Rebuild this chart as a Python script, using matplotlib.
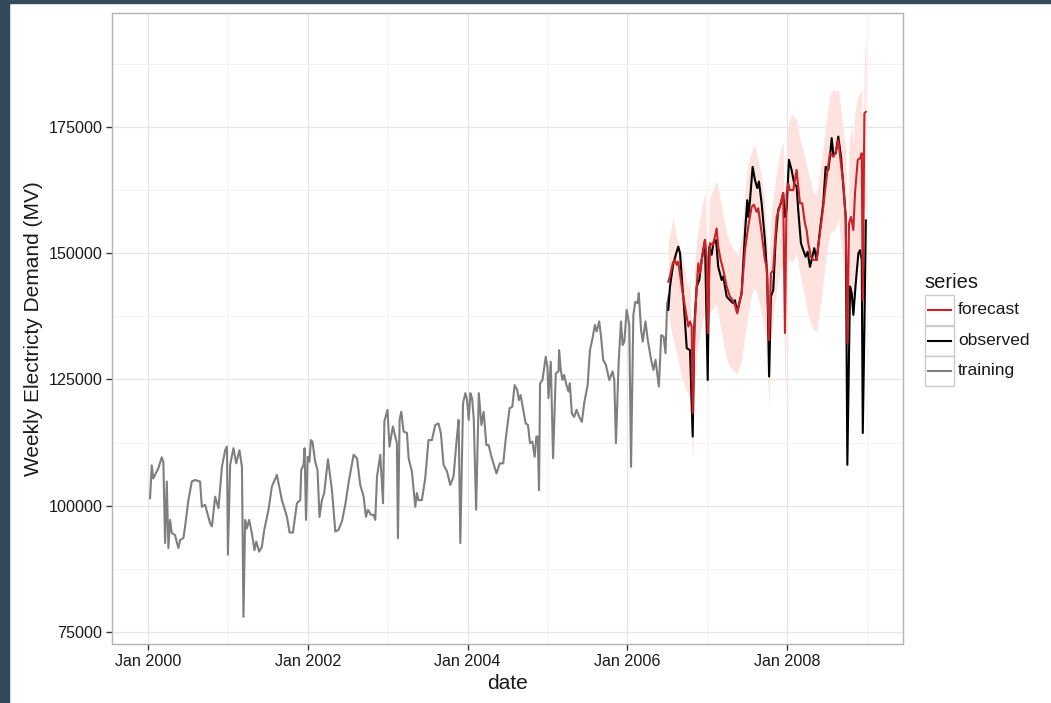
import matplotlib
matplotlib.use("Agg")
import matplotlib.pyplot as plt
from matplotlib.patches import Rectangle
from matplotlib.lines import Line2D
from datetime import datetime

plt.rcParams['font.family'] = ['Liberation Sans', 'DejaVu Sans']

# ---------------- data (decimal years, MW) ----------------
train_t = [2000.022, 2000.043, 2000.062, 2000.084, 2000.125, 2000.168, 2000.188, 2000.210, 2000.231, 2000.251,
           2000.272, 2000.293, 2000.334, 2000.376, 2000.397, 2000.439, 2000.460, 2000.501, 2000.544, 2000.585,
           2000.647, 2000.669, 2000.710, 2000.773, 2000.795, 2000.836, 2000.877, 2000.920, 2000.961, 2000.983,
           2000.995, 2001.023, 2001.065, 2001.099, 2001.140, 2001.171, 2001.190, 2001.211, 2001.232, 2001.261,
           2001.295, 2001.328, 2001.350, 2001.387, 2001.421, 2001.450, 2001.504, 2001.546, 2001.609, 2001.672,
           2001.735, 2001.768, 2001.810, 2001.860, 2001.902, 2001.914, 2001.943, 2001.956, 2001.974, 2001.994,
           2002.017, 2002.035, 2002.055, 2002.089, 2002.118, 2002.143, 2002.173, 2002.202, 2002.249, 2002.299,
           2002.341, 2002.381, 2002.424, 2002.466, 2002.507, 2002.570, 2002.613, 2002.654, 2002.696, 2002.725,
           2002.750, 2002.788, 2002.821, 2002.842, 2002.864, 2002.905, 2002.939, 2002.956, 2002.995, 2003.020,
           2003.063, 2003.113, 2003.126, 2003.147, 2003.168, 2003.197, 2003.239, 2003.260, 2003.301, 2003.343,
           2003.364, 2003.384, 2003.426, 2003.468, 2003.509, 2003.552, 2003.594, 2003.635, 2003.664, 2003.698,
           2003.741, 2003.782, 2003.823, 2003.866, 2003.887, 2003.908, 2003.942, 2003.971, 2003.992, 2004.013,
           2004.034, 2004.055, 2004.076, 2004.106, 2004.139, 2004.172, 2004.200, 2004.234, 2004.263, 2004.297,
           2004.360, 2004.402, 2004.445, 2004.474, 2004.524, 2004.558, 2004.587, 2004.620, 2004.640, 2004.662,
           2004.725, 2004.754, 2004.779, 2004.809, 2004.838, 2004.859, 2004.876, 2004.892, 2004.905, 2004.935,
           2004.976, 2004.997, 2005.010, 2005.039, 2005.068, 2005.102, 2005.136, 2005.144, 2005.164, 2005.185,
           2005.206, 2005.236, 2005.261, 2005.278, 2005.303, 2005.332, 2005.362, 2005.395, 2005.429, 2005.458,
           2005.501, 2005.530, 2005.563, 2005.592, 2005.613, 2005.646, 2005.667, 2005.696, 2005.730, 2005.772,
           2005.814, 2005.835, 2005.856, 2005.890, 2005.919, 2005.940, 2005.961, 2005.990, 2006.023, 2006.045,
           2006.074, 2006.099, 2006.129, 2006.142, 2006.171, 2006.192, 2006.226, 2006.255, 2006.297, 2006.326,
           2006.352, 2006.394, 2006.423, 2006.453, 2006.477, 2006.498, 2006.520]
train_v = [101500, 108000, 105400, 106100, 107400, 109600, 108700, 92600, 104800, 91600,
           97200, 94600, 94200, 91600, 93200, 93600, 95900, 101100, 104800, 105100,
           104800, 99800, 100200, 96500, 95900, 101800, 99500, 107700, 111000, 111700,
           90300, 108100, 111400, 108400, 111000, 107700, 78000, 97200, 95500, 97200,
           94600, 91200, 92900, 90900, 91900, 95200, 99200, 103800, 106100, 101100,
           97800, 94700, 94700, 100500, 101100, 107100, 108100, 111400, 97200, 109700,
           108700, 113000, 112700, 108700, 107100, 97800, 101100, 102500, 109200, 103100,
           94900, 95200, 96900, 100200, 104500, 110100, 109400, 104100, 101800, 97800,
           99200, 98200, 98200, 97200, 105800, 110100, 100500, 116700, 119000, 111700,
           115700, 112400, 93600, 117000, 118600, 114700, 114400, 109400, 106800, 99800,
           102500, 101100, 101100, 105400, 113000, 113000, 116000, 116300, 114400, 108100,
           106800, 104100, 105800, 113700, 117000, 92600, 120300, 122300, 121000, 117000,
           122300, 121300, 117300, 99200, 122300, 116000, 118600, 112000, 112000, 109700,
           106400, 108400, 108400, 113000, 119300, 119600, 123900, 122900, 120900, 121900,
           116300, 116000, 112400, 112700, 109700, 113700, 113700, 103100, 124250, 124900,
           129500, 127500, 121300, 128500, 109400, 126200, 126600, 130800, 126900, 124900,
           125900, 123900, 122600, 124250, 118300, 117600, 119000, 117600, 116600, 120300,
           123900, 130800, 133200, 135800, 134500, 136500, 133800, 128900, 127900, 124900,
           126600, 124900, 112400, 128500, 136500, 131800, 132500, 138800, 135800, 107700,
           137800, 140400, 140100, 142100, 134800, 132500, 136500, 132800, 128900, 126900,
           128900, 123600, 133800, 133500, 130200, 140100, 141700]

obs_t = [2006.512, 2006.533, 2006.575, 2006.617, 2006.637, 2006.659, 2006.680, 2006.709, 2006.743, 2006.784,
         2006.818, 2006.838, 2006.868, 2006.900, 2006.930, 2006.972, 2007.006, 2007.026, 2007.056, 2007.076,
         2007.110, 2007.138, 2007.181, 2007.201, 2007.244, 2007.285, 2007.326, 2007.347, 2007.376, 2007.431,
         2007.473, 2007.502, 2007.514, 2007.536, 2007.569, 2007.598, 2007.627, 2007.648, 2007.682, 2007.723,
         2007.752, 2007.776, 2007.798, 2007.827, 2007.857, 2007.890, 2007.924, 2007.952, 2007.974, 2007.995,
         2008.024, 2008.057, 2008.090, 2008.120, 2008.140, 2008.174, 2008.203, 2008.233, 2008.258, 2008.287,
         2008.308, 2008.341, 2008.371, 2008.412, 2008.453, 2008.483, 2008.516, 2008.537, 2008.558, 2008.579,
         2008.609, 2008.641, 2008.675, 2008.704, 2008.734, 2008.754, 2008.788, 2008.809, 2008.829, 2008.859,
         2008.892, 2008.913, 2008.934, 2008.947, 2008.967, 2008.985]
obs_v = [138800, 143400, 148000, 150300, 151300, 150000, 145400, 139400, 131200, 130800,
         113700, 135500, 143400, 144700, 148700, 152600, 124900, 151300, 149700, 152000,
         152600, 147300, 144700, 145400, 141400, 140700, 140100, 140700, 138400, 142100,
         154000, 160500, 157200, 160500, 167100, 164500, 162900, 164200, 159900, 152600,
         145400, 125600, 141400, 142700, 152600, 158600, 159900, 161900, 157200, 158600,
         168500, 166500, 163800, 163200, 158600, 152000, 150600, 149300, 150300, 147300,
         148700, 151000, 148700, 154600, 159900, 167100, 166500, 169100, 172800, 169500,
         169800, 173100, 169100, 163200, 157200, 108100, 143400, 142100, 137800, 144000,
         150000, 150600, 148700, 114400, 134800, 156500]

fc_t = [2006.512, 2006.533, 2006.567, 2006.596, 2006.617, 2006.637, 2006.680, 2006.721, 2006.763, 2006.784,
        2006.805, 2006.818, 2006.838, 2006.868, 2006.888, 2006.909, 2006.943, 2006.972, 2006.993, 2007.006,
        2007.035, 2007.068, 2007.097, 2007.118, 2007.138, 2007.168, 2007.201, 2007.244, 2007.285, 2007.319,
        2007.347, 2007.376, 2007.431, 2007.473, 2007.514, 2007.557, 2007.585, 2007.619, 2007.639, 2007.682,
        2007.723, 2007.745, 2007.776, 2007.798, 2007.827, 2007.870, 2007.911, 2007.952, 2007.974, 2007.995,
        2008.015, 2008.036, 2008.078, 2008.120, 2008.140, 2008.162, 2008.190, 2008.224, 2008.245, 2008.265,
        2008.299, 2008.328, 2008.371, 2008.412, 2008.453, 2008.496, 2008.537, 2008.579, 2008.609, 2008.641,
        2008.675, 2008.704, 2008.734, 2008.754, 2008.775, 2008.800, 2008.829, 2008.850, 2008.884, 2008.913,
        2008.934, 2008.947, 2008.967, 2008.985]
fc_v = [144400, 145400, 148000, 148700, 147700, 148300, 143400, 139400, 135500, 136500,
        135500, 118300, 134200, 143400, 148000, 146000, 150000, 152600, 149300, 134200,
        152000, 151600, 153300, 154900, 151300, 148700, 146700, 143400, 141400, 140700,
        139800, 138100, 142100, 150600, 155300, 159200, 159600, 158200, 158900, 154000,
        148700, 147300, 132800, 146000, 146700, 157200, 159200, 161900, 134200, 161900,
        163800, 162500, 162500, 166500, 163200, 159900, 159900, 155900, 154600, 152000,
        149300, 148700, 148700, 154000, 159200, 165200, 169800, 169100, 170100, 172400,
        167500, 163800, 156500, 132200, 155900, 157200, 154600, 161900, 168500, 168800,
        169800, 140700, 177700, 178000]

band_t = [2006.512, 2006.571, 2006.621, 2006.680, 2006.721, 2006.763, 2006.784, 2006.818, 2006.838, 2006.868,
          2006.930, 2006.972, 2007.006, 2007.026, 2007.072, 2007.118, 2007.181, 2007.244, 2007.285, 2007.347,
          2007.376, 2007.431, 2007.473, 2007.514, 2007.557, 2007.585, 2007.619, 2007.682, 2007.723, 2007.776,
          2007.798, 2007.870, 2007.911, 2007.952, 2007.974, 2007.995, 2008.024, 2008.061, 2008.120, 2008.162,
          2008.224, 2008.265, 2008.328, 2008.371, 2008.412, 2008.453, 2008.496, 2008.537, 2008.579, 2008.609,
          2008.641, 2008.675, 2008.704, 2008.734, 2008.754, 2008.775, 2008.809, 2008.829, 2008.850, 2008.884,
          2008.934, 2008.947, 2008.967, 2008.985]
band_lo = [138000, 133000, 130000, 125500, 123500, 122000, 120500, 109000, 122000, 130000,
           136000, 138500, 122000, 138000, 139000, 140000, 134000, 129000, 127500, 126500,
           126000, 129000, 134000, 138000, 142000, 143000, 142500, 138000, 133500, 120000,
           133000, 143000, 146000, 148000, 120000, 147000, 149000, 148000, 150000, 146000,
           141000, 137500, 135000, 134500, 139000, 144500, 150000, 154000, 154500, 155000,
           157000, 152000, 148000, 140000, 114000, 138000, 140000, 135000, 144000, 150000,
           151000, 122000, 158000, 160000]
band_hi = [152000, 157000, 153000, 150000, 146500, 143000, 145000, 128000, 146000, 153000,
           159000, 162000, 147000, 161000, 162500, 164500, 159000, 154000, 152000, 150500,
           149500, 153000, 162000, 168000, 170000, 171500, 170000, 165000, 160000, 146000,
           158000, 166000, 170000, 172000, 150000, 173000, 176000, 177500, 176500, 172500,
           169000, 166000, 162000, 161500, 166000, 171000, 177000, 181500, 182500, 182000,
           182500, 178000, 174000, 170500, 150000, 172000, 175000, 172000, 178000, 181000,
           182500, 160000, 189000, 192000]

y_ticks = [75000, 100000, 125000, 150000, 175000]
x_tick_years = [2000, 2002, 2004, 2006, 2008]
series_names = ["forecast", "observed", "training"]
series_colors = ["#cc2127", "#000000", "#7f7f7f"]


def to_date(y):
    yr = int(y)
    a = datetime(yr, 1, 1)
    b = datetime(yr + 1, 1, 1)
    return a + (b - a) * (y - yr)


def dates(ts):
    return [to_date(t) for t in ts]


# ---------------- figure ----------------
W, H = 1051, 703
fig = plt.figure(figsize=(W / 100, H / 100), dpi=100)
fig.patch.set_facecolor("white")
# dark frame strips (screenshot border)
fig.add_artist(Rectangle((0, 0), 9 / W, 1, transform=fig.transFigure, color="#34495a", zorder=10))
fig.add_artist(Rectangle((0, 1 - 3 / H), 1, 3 / H, transform=fig.transFigure, color="#34495a", zorder=10))

L, R, T, B = 112, 903, 13, 644
ax = fig.add_axes([L / W, 1 - B / H, (R - L) / W, (B - T) / H])

ax.fill_between(dates(band_t), band_lo, band_hi, color="#fde2de", lw=0, zorder=2)
ax.plot(dates(train_t), train_v, color=series_colors[2], lw=1.5, zorder=3)
ax.plot(dates(obs_t), obs_v, color=series_colors[1], lw=1.5, zorder=4)
ax.plot(dates(fc_t), fc_v, color=series_colors[0], lw=1.5, zorder=5)

ax.set_xlim(to_date(1999.545), to_date(2009.451))
ax.set_ylim(72624, 197572)

ax.set_yticks(y_ticks)
ax.set_yticklabels([str(v) for v in y_ticks])
ax.set_yticks([87500, 112500, 137500, 162500, 187500], minor=True)
ax.set_xticks([datetime(y, 1, 1) for y in x_tick_years])
ax.set_xticklabels(["Jan %d" % y for y in x_tick_years])
ax.set_xticks([datetime(y, 1, 1) for y in [2001, 2003, 2005, 2007, 2009]], minor=True)

ax.grid(which="major", color="#e6e6e6", lw=0.9, zorder=0)
ax.grid(which="minor", color="#f3f3f3", lw=0.7, zorder=0)
ax.set_axisbelow(True)
ax.tick_params(which="major", direction="out", length=4, width=1, color="#333333",
               labelsize=11.6, labelcolor="#1a1a1a", pad=3)
ax.tick_params(which="minor", length=0)
for s in ax.spines.values():
    s.set_color("#b3b3b3")
    s.set_linewidth(1.0)

ax.set_xlabel("date", fontsize=15, color="#1a1a1a", labelpad=4)
ax.set_ylabel("Weekly Electricty Demand (MV)", fontsize=15, color="#1a1a1a", labelpad=4)

# ---------------- legend (ggplot style) ----------------
fig.text(924 / W, 1 - 282 / H, "series", fontsize=14.5, color="#1a1a1a", va="center", ha="left")
box_top = [295, 325.5, 356]
for name, col, top in zip(series_names, series_colors, box_top):
    fig.add_artist(Rectangle((925 / W, 1 - (top + 30) / H), 29 / W, 30 / H, transform=fig.transFigure,
                             facecolor="white", edgecolor="#cccccc", lw=1.0))
    yc = 1 - (top + 15) / H
    fig.add_artist(Line2D([928 / W, 951 / W], [yc, yc], transform=fig.transFigure, color=col, lw=1.5))
    fig.text(958 / W, yc, name, fontsize=12.5, color="#1a1a1a", va="center", ha="left")

fig.savefig("out.png", dpi=100, facecolor="white")
